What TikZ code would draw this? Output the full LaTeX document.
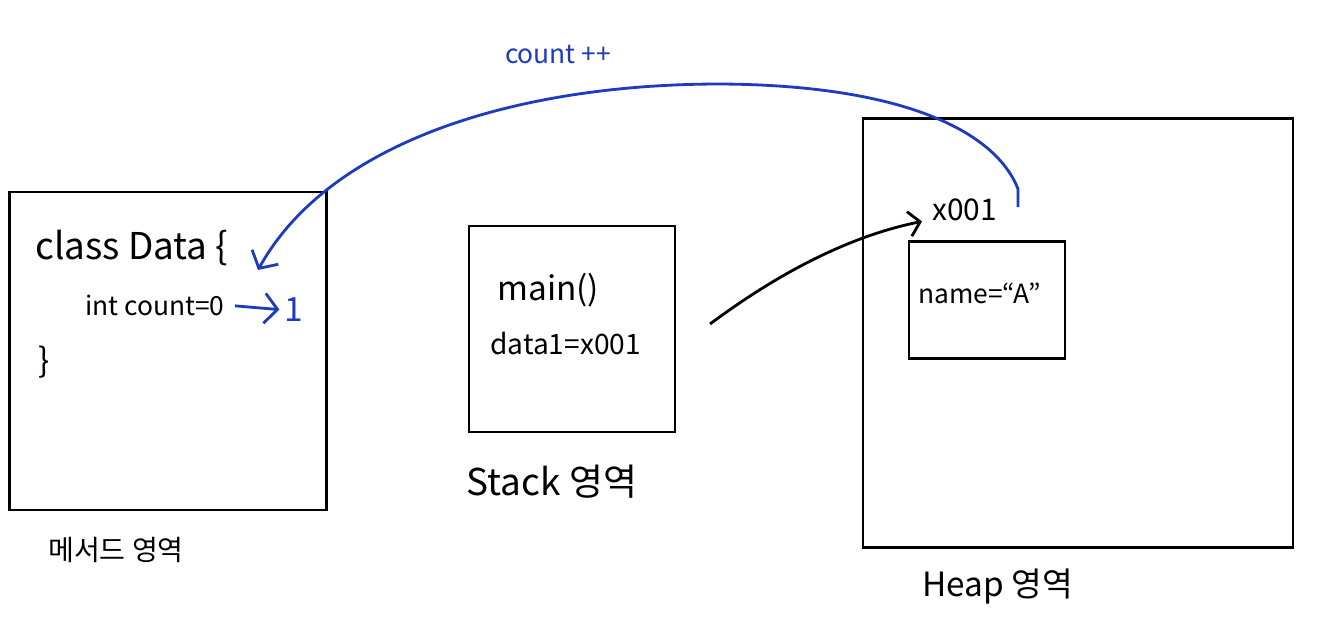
\documentclass[tikz,border=0pt]{standalone}
\usepackage{fontspec}
\setmainfont{Noto Sans CJK KR}
\usetikzlibrary{arrows.meta,positioning}
\definecolor{penblue}{RGB}{30,58,190}

\begin{document}
\begin{tikzpicture}[x=0.02cm,y=-0.02cm,
  area/.style={draw,line width=1.6pt},
  code/.style={inner sep=0pt,font=\fontsize{15}{18}\selectfont},
  big/.style={font=\fontsize{#1}{#1}\selectfont},
  tag/.style={inner sep=0pt,font=\fontsize{16}{19}\selectfont},
  ptrline/.style={line width=1.6pt,-{Straight Barb[length=2.2mm,width=5mm]}},
  blueline/.style={penblue,line width=1.6pt,-{Straight Barb[length=2.6mm,width=6mm]}}]
\fill[white] (0,0) rectangle (1320,633);
\useasboundingbox (0,0) rectangle (1320,633);

% memory areas
\node[area,minimum width=6.34cm,minimum height=6.36cm] (meth) at (168,351) {};
\node[area,minimum width=4.12cm,minimum height=4.12cm] (stack) at (572,329) {};
\node[area,minimum width=8.6cm,minimum height=8.58cm] (heap) at (1078,333) {};
\node[area,minimum width=3.12cm,minimum height=2.34cm] (obj) at (987,300) {};

\node[tag,below=0.52cm of meth.south,xshift=-1.04cm] (methlbl) {메서드 영역};
\node[tag,big=21,below=0.62cm of stack.south,xshift=-0.4cm] (stacklbl) {Stack 영역};
\node[tag,big=19,below=0.4cm of heap.south,xshift=-1.6cm] (heaplbl) {Heap 영역};

% method area
\node[code,big=21,anchor=west] (cls) at (35,248) {class Data \{};
\node[code,anchor=west] (cnt) at (85,305) {int count=0};
\node[code,big=19,anchor=west] (close) at (38,362) {\}};
\node[code,big=19,text=penblue] (one) at (294,310) {1};

% stack and heap
\node[code,big=19,anchor=west] (mainfn) at (497,290) {main()};
\node[code,big=16,anchor=west] (ref) at (490,343) {data1=x001};
\node[code,big=17,anchor=west] (addr) at (932,210) {x001};
\node[code,anchor=west] (field) at (918,293) {name=“A”};

\node[code,text=penblue] (op) at (558,54) {count ++};

\coordinate (ptr) at (710,324);
\coordinate (inc) at (1018,207);
\coordinate (hit) at (258,270);

\draw[blueline,shorten <=2mm,shorten >=1mm] (cnt.east) -- (one.west);
\draw[ptrline] (ptr) .. controls (780,272) and (850,236) .. ([xshift=-2mm]addr.south west);
\draw[blueline] (inc) -- ++(0,-18) .. controls (995,130) and (900,85) .. (720,84)
  .. controls (520,84) and (330,140) .. (hit);
\end{tikzpicture}
\end{document}
